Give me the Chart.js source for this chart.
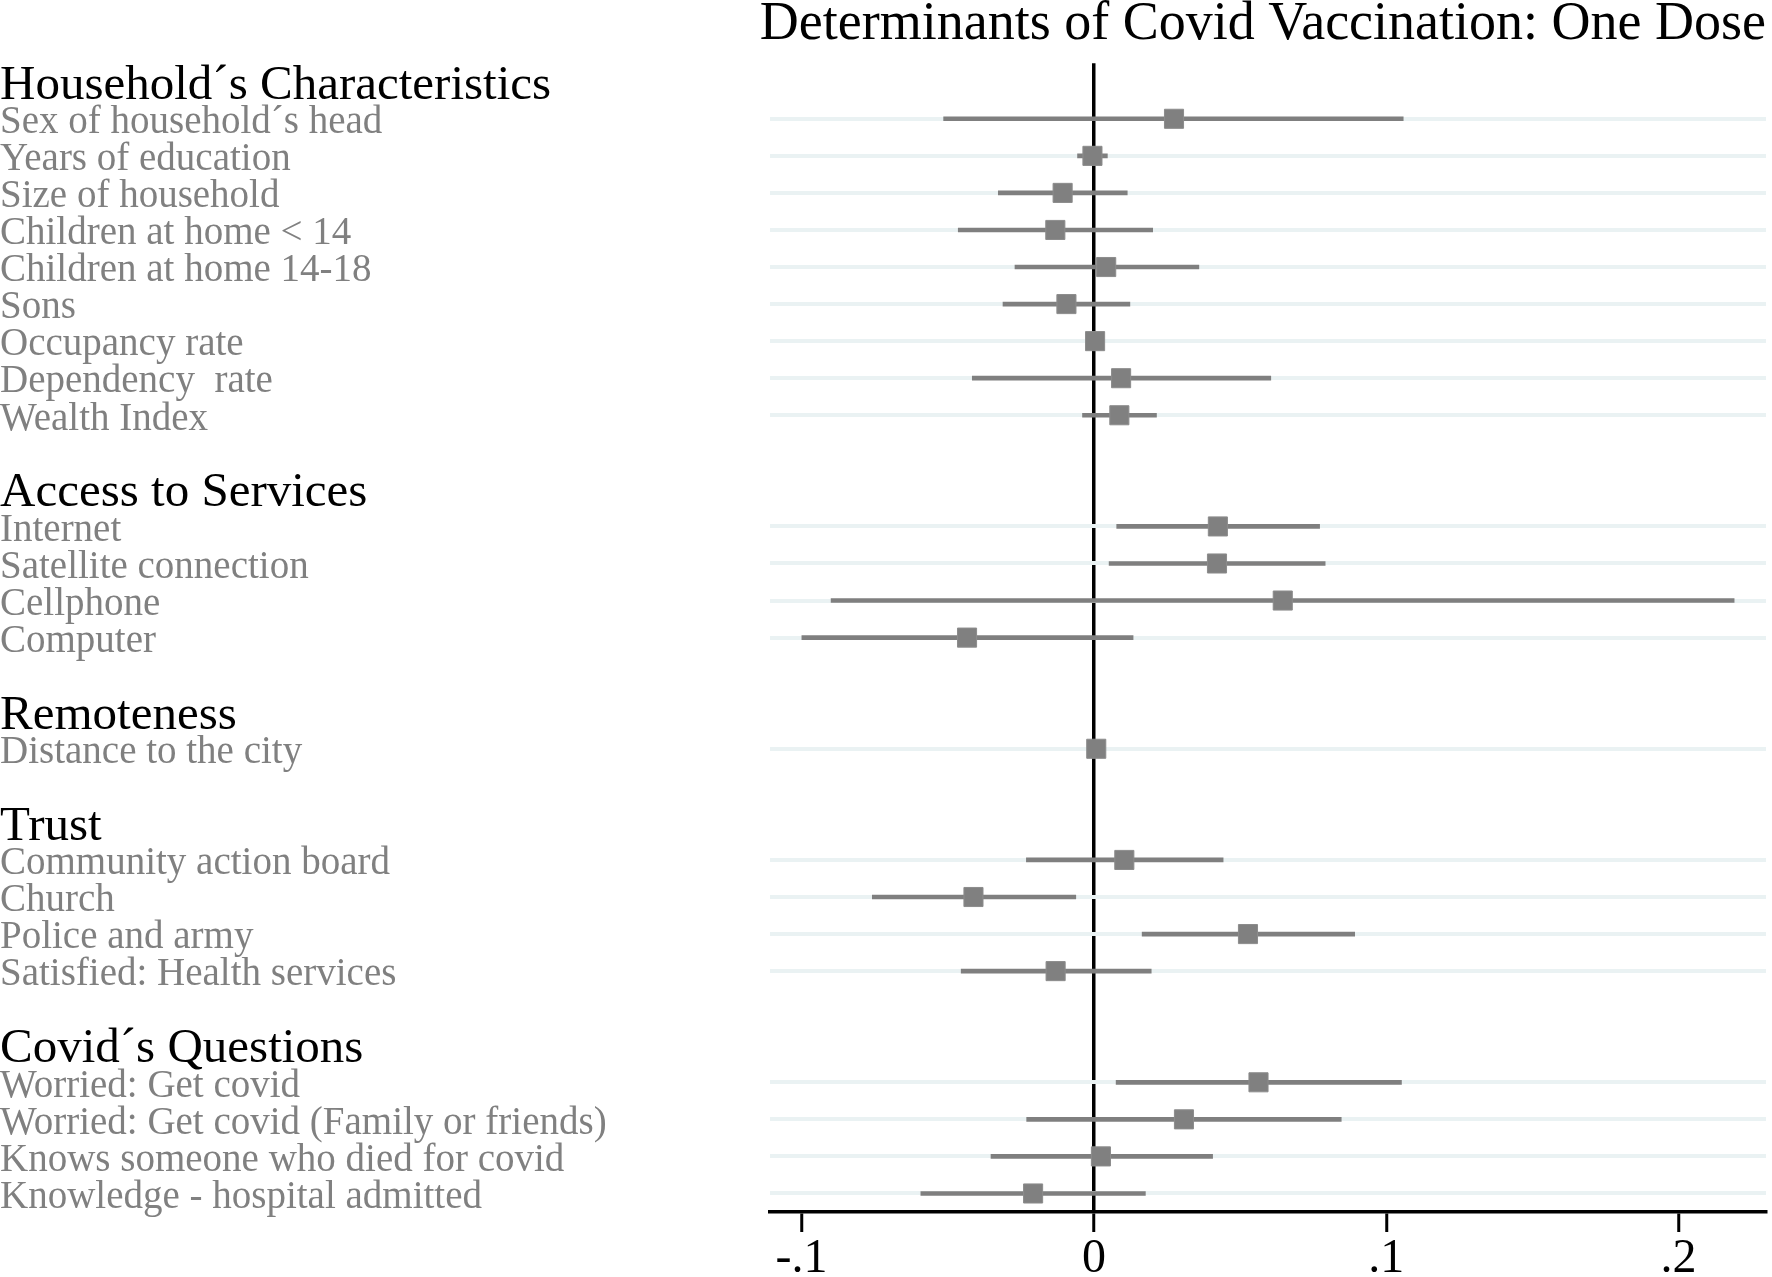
<!DOCTYPE html>
<html>
<head>
<meta charset="utf-8">
<script src="https://cdn.jsdelivr.net/npm/chart.js@4/dist/chart.umd.min.js"></script>
<style>
  html, body { margin: 0; padding: 0; background: #fff; }
  #wrap { width: 1772px; height: 1277px; }
</style>
</head>
<body>
<div id="wrap"><canvas id="chart"></canvas></div>
<script>
// rows of the coefficient plot, group headers included, "" = spacer
const rowLabels = [
  "Household´s Characteristics",
  "Sex of household´s head", "Years of education", "Size of household",
  "Children at home < 14", "Children at home 14-18", "Sons",
  "Occupancy rate", "Dependency  rate", "Wealth Index",
  "",
  "Access to Services",
  "Internet", "Satellite connection", "Cellphone", "Computer",
  "",
  "Remoteness",
  "Distance to the city",
  "",
  "Trust",
  "Community action board", "Church", "Police and army", "Satisfied: Health services",
  "",
  "Covid´s Questions",
  "Worried: Get covid", "Worried: Get covid (Family or friends)",
  "Knows someone who died for covid", "Knowledge - hospital admitted"
];

// point estimates (null = header / spacer)
const coef = [
  null, 0.0274, -0.0005, -0.0107, -0.0132, 0.0042, -0.0094, 0.0004, 0.0093, 0.0087,
  null, null, 0.0424, 0.0421, 0.0646, -0.0434,
  null, null, 0.0008,
  null, null, 0.0104, -0.0412, 0.0527, -0.0131,
  null, null, 0.0563, 0.0308, 0.0024, -0.0208
];
// 95% CI bounds
const ciLow = [
  null, -0.0514, -0.0056, -0.0327, -0.0464, -0.0270, -0.0311, -0.0020, -0.0416, -0.0039,
  null, null, 0.0078, 0.0052, -0.0899, -0.0999,
  null, null, -0.0010,
  null, null, -0.0231, -0.0758, 0.0165, -0.0454,
  null, null, 0.0076, -0.0230, -0.0352, -0.0592
];
const ciHigh = [
  null, 0.1058, 0.0046, 0.0114, 0.0201, 0.0359, 0.0123, 0.0030, 0.0605, 0.0214,
  null, null, 0.0772, 0.0791, 0.2190, 0.0134,
  null, null, 0.0020,
  null, null, 0.0442, -0.0062, 0.0892, 0.0196,
  null, null, 0.1052, 0.0846, 0.0406, 0.0176
];
const xTicks = [-0.1, 0, 0.1, 0.2];

const isHeader = (i) => rowLabels[i] !== "" && coef[i] === null;
const isItem = (i) => coef[i] !== null;

Chart.defaults.font.family = "'Liberation Serif', 'Times New Roman', serif";

new Chart(document.getElementById("chart"), {
  type: "bar",
  data: {
    labels: rowLabels,
    datasets: [
      {
        type: "line",
        indexAxis: "y",
        data: coef,
        showLine: false,
        pointStyle: "rect",
        pointRadius: 13.5,
        pointBorderWidth: 1,
        backgroundColor: "#808080",
        borderColor: "#8c8c8c",
        order: 0,
      },
      {
        type: "bar",
        indexAxis: "y",
        data: ciLow.map((lo, i) => (lo === null ? null : [lo, ciHigh[i]])),
        backgroundColor: "#7f7f7f",
        borderWidth: 0,
        barThickness: 4,
        grouped: false,
        order: 1,
      },
    ],
  },
  options: {
    indexAxis: "y",
    responsive: true,
    maintainAspectRatio: false,
    animation: false,
    devicePixelRatio: 1,
    layout: { autoPadding: false, padding: { left: 0, right: 6, top: 0, bottom: 0 } },
    plugins: {
      legend: { display: false },
      tooltip: { enabled: false },
      title: {
        display: true,
        text: "Determinants of Covid Vaccination: One Dose",
        align: "end",
        color: "#000",
        font: { size: 54, weight: "normal", lineHeight: 0.8 },
        padding: { top: 3, bottom: 17 },
      },
    },
    scales: {
      x: {
        type: "linear",
        min: -0.1108,
        max: 0.2299,
        afterBuildTicks: (scale) => {
          scale.ticks = xTicks.map((v) => ({ value: v }));
        },
        afterFit: (scale) => {
          scale.height = 65;
        },
        border: { display: true, color: "#000", width: 3.5 },
        grid: {
          color: (ctx) => (ctx.tick && ctx.tick.value === 0 ? "#000" : "rgba(0,0,0,0)"),
          lineWidth: 3.5,
          tickColor: "#000",
          tickWidth: 3,
          tickLength: 20,
        },
        ticks: {
          color: "#000",
          padding: 3,
          font: { size: 48, lineHeight: 1 },
          callback: (v) => (v === 0 ? "0" : String(Math.round(v * 10) / 10).replace("0.", ".")),
        },
      },
      y: {
        type: "category",
        offset: true,
        afterFit: (scale) => {
          scale.width = 770;
        },
        border: { display: false },
        grid: {
          offset: false,
          drawTicks: false,
          lineWidth: 4,
          color: (ctx) => (isItem(ctx.index) ? "#eaf2f3" : "rgba(0,0,0,0)"),
        },
        ticks: {
          autoSkip: false,
          crossAlign: "far",
          padding: 0,
          labelOffset: 4,
          color: (ctx) => (isHeader(ctx.index) ? "#000" : "#808080"),
          font: (ctx) => (isHeader(ctx.index) ? { size: 49, lineHeight: 1 } : { size: 39, lineHeight: 1 }),
        },
      },
    },
  },
});
</script>
</body>
</html>
